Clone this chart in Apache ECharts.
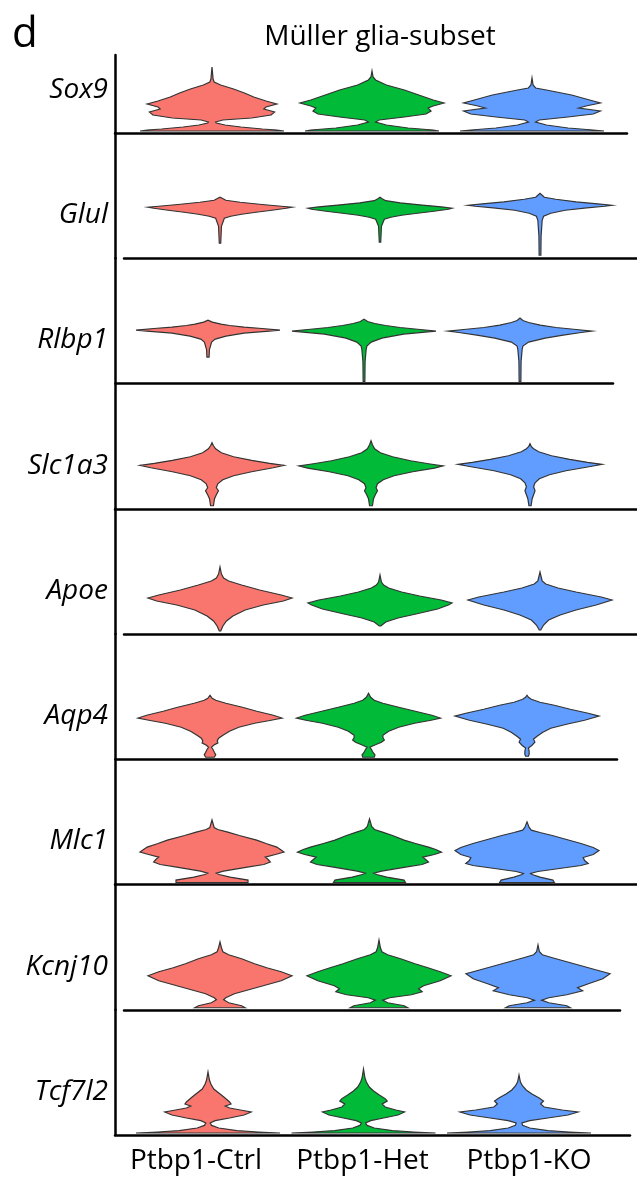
<!DOCTYPE html>
<html><head><meta charset="utf-8">
<script src="https://cdn.jsdelivr.net/npm/echarts@6/dist/echarts.min.js"></script>
<style>html,body{margin:0;padding:0;background:#fff}#c{width:637px;height:1177px}</style>
</head><body><div id="c"></div>
<script>
// ---------- DATA ----------
const groups = ['Ptbp1-Ctrl', 'Ptbp1-Het', 'Ptbp1-KO'];
const genes = ['Sox9', 'Glul', 'Rlbp1', 'Slc1a3', 'Apoe', 'Aqp4', 'Mlc1', 'Kcnj10', 'Tcf7l2'];
const title = 'Müller glia-subset';
const panelLetter = 'd';

// violin profiles per gene: for each group [expression level, relative density (1 = widest)]
const Sox9 = [
  [[0,1.0],[0.05,0.9],[0.1,0.7],[0.2,0.4],[0.3,0.18],[0.4,0.06],[0.45,0.05],[0.55,0.15],[0.65,0.55],[0.8,0.82],[0.95,0.87],[1.1,0.72],[1.2,0.75],[1.35,0.9],[1.5,0.75],[1.7,0.58],[1.9,0.45],[2.1,0.3],[2.3,0.12],[2.45,0.03],[2.6,0.015],[3.2,0]],
  [[0,0.93],[0.05,0.85],[0.15,0.5],[0.3,0.2],[0.45,0.05],[0.55,0.1],[0.7,0.45],[0.85,0.75],[1.0,0.82],[1.15,0.78],[1.25,0.85],[1.4,1.0],[1.55,0.85],[1.8,0.65],[2.05,0.45],[2.3,0.2],[2.55,0.05],[2.7,0.015],[3.0,0]],
  [[0,1.0],[0.05,0.85],[0.15,0.5],[0.3,0.2],[0.45,0.05],[0.55,0.1],[0.7,0.5],[0.85,0.85],[1.0,0.95],[1.15,0.65],[1.25,0.75],[1.4,0.95],[1.55,0.8],[1.8,0.55],[2.05,0.2],[2.15,0.05],[2.3,0.015],[2.65,0]]
];
const Glul = [
  [[0.65,0.01],[1.5,0.02],[1.9,0.06],[2.0,0.15],[2.1,0.3],[2.2,0.5],[2.3,0.72],[2.4,0.92],[2.45,1.0],[2.5,0.85],[2.6,0.55],[2.7,0.28],[2.8,0.08],[2.9,0.03],[2.95,0]],
  [[0.7,0.01],[1.5,0.02],[1.85,0.06],[1.95,0.15],[2.05,0.3],[2.15,0.52],[2.25,0.75],[2.35,0.95],[2.4,1.0],[2.47,0.85],[2.57,0.55],[2.67,0.28],[2.78,0.08],[2.88,0.03],[2.95,0]],
  [[0.05,0.012],[1.0,0.015],[1.8,0.03],[2.0,0.05],[2.15,0.15],[2.3,0.35],[2.42,0.65],[2.5,0.9],[2.55,1.0],[2.62,0.8],[2.72,0.5],[2.85,0.22],[2.95,0.06],[3.05,0.03],[3.15,0]]
];
const Rlbp1 = [
  [[1.22,0.015],[1.6,0.02],[1.97,0.05],[2.12,0.1],[2.27,0.25],[2.42,0.5],[2.52,0.85],[2.57,1.0],[2.65,0.75],[2.72,0.5],[2.8,0.3],[2.87,0.18],[2.97,0.06],[3.07,0]],
  [[0,0.012],[1.0,0.015],[1.6,0.03],[1.77,0.04],[1.97,0.1],[2.17,0.25],[2.37,0.55],[2.47,0.85],[2.52,1.0],[2.6,0.78],[2.7,0.5],[2.8,0.3],[2.9,0.15],[3.0,0.05],[3.12,0]],
  [[0,0.012],[1.0,0.015],[1.6,0.03],[1.77,0.04],[1.97,0.12],[2.17,0.35],[2.32,0.6],[2.45,0.85],[2.52,1.0],[2.6,0.78],[2.7,0.5],[2.82,0.28],[2.95,0.12],[3.05,0.04],[3.17,0]]
];
const Slc1a3 = [
  [[0.05,0.02],[0.4,0.035],[0.6,0.06],[0.8,0.09],[0.95,0.06],[1.15,0.08],[1.35,0.15],[1.55,0.3],[1.75,0.55],[1.95,0.85],[2.07,1.0],[2.17,0.8],[2.32,0.55],[2.5,0.3],[2.7,0.13],[2.9,0.05],[3.05,0.02],[3.2,0]],
  [[0.05,0.02],[0.4,0.035],[0.6,0.06],[0.8,0.09],[0.95,0.07],[1.15,0.09],[1.35,0.17],[1.55,0.32],[1.75,0.58],[1.93,0.88],[2.04,1.0],[2.15,0.8],[2.3,0.55],[2.5,0.3],[2.7,0.13],[2.9,0.05],[3.1,0.02],[3.3,0]],
  [[0.05,0.015],[0.4,0.03],[0.6,0.05],[0.8,0.07],[1.0,0.05],[1.2,0.07],[1.4,0.13],[1.6,0.27],[1.8,0.5],[2.0,0.82],[2.12,1.0],[2.22,0.8],[2.37,0.55],[2.55,0.3],[2.75,0.12],[2.9,0.05],[3.0,0.02],[3.15,0]]
];
const Apoe = [
  [[0.05,0.01],[0.3,0.04],[0.55,0.09],[0.8,0.18],[1.1,0.35],[1.35,0.6],[1.55,0.88],[1.7,1.0],[1.85,0.85],[2.1,0.55],[2.35,0.3],[2.55,0.12],[2.7,0.05],[2.9,0.02],[3.25,0]],
  [[0.3,0.01],[0.5,0.08],[0.7,0.25],[0.9,0.5],[1.15,0.8],[1.35,0.95],[1.45,1.0],[1.6,0.85],[1.8,0.55],[2.0,0.3],[2.2,0.12],[2.35,0.05],[2.5,0.02],[2.85,0]],
  [[0.1,0.01],[0.35,0.05],[0.6,0.12],[0.85,0.28],[1.1,0.5],[1.35,0.78],[1.6,1.0],[1.75,0.85],[2.0,0.5],[2.2,0.25],[2.4,0.08],[2.55,0.03],[3.0,0]]
];
const Aqp4 = [
  [[0,0.06],[0.12,0.08],[0.25,0.06],[0.4,0.04],[0.5,0.02],[0.6,0.05],[0.72,0.11],[0.82,0.1],[0.95,0.12],[1.1,0.18],[1.3,0.27],[1.5,0.4],[1.7,0.62],[1.85,0.85],[1.96,1.0],[2.1,0.88],[2.3,0.65],[2.5,0.45],[2.7,0.22],[2.85,0.08],[2.95,0.03],[3.1,0]],
  [[0,0.08],[0.12,0.09],[0.25,0.06],[0.4,0.04],[0.5,0.02],[0.6,0.08],[0.75,0.18],[0.86,0.22],[0.98,0.2],[1.1,0.2],[1.3,0.28],[1.5,0.42],[1.7,0.64],[1.85,0.87],[1.96,1.0],[2.1,0.88],[2.3,0.65],[2.5,0.42],[2.7,0.2],[2.85,0.08],[3.0,0.03],[3.2,0]],
  [[0.05,0.02],[0.15,0.03],[0.3,0.03],[0.46,0.02],[0.6,0.07],[0.76,0.11],[0.9,0.09],[1.05,0.14],[1.25,0.22],[1.45,0.33],[1.65,0.55],[1.85,0.8],[2.06,1.0],[2.2,0.85],[2.4,0.6],[2.6,0.38],[2.75,0.18],[2.9,0.06],[3.0,0.02],[3.1,0]]
];
const Mlc1 = [
  [[0,0.5],[0.12,0.5],[0.27,0.25],[0.4,0.1],[0.47,0.06],[0.57,0.16],[0.77,0.49],[0.9,0.72],[1.02,0.81],[1.15,0.78],[1.27,0.74],[1.4,0.88],[1.52,1.0],[1.65,0.95],[1.77,0.9],[1.95,0.75],[2.12,0.62],[2.35,0.38],[2.52,0.22],[2.65,0.08],[2.75,0.03],[3.13,0]],
  [[0,0.5],[0.12,0.48],[0.27,0.24],[0.4,0.1],[0.47,0.06],[0.57,0.17],[0.77,0.5],[0.9,0.73],[1.02,0.82],[1.15,0.78],[1.27,0.74],[1.4,0.9],[1.52,1.0],[1.65,0.92],[1.77,0.82],[1.95,0.64],[2.12,0.48],[2.35,0.32],[2.52,0.18],[2.65,0.07],[2.8,0.03],[3.18,0]],
  [[0,0.38],[0.12,0.36],[0.27,0.18],[0.4,0.07],[0.45,0.05],[0.55,0.15],[0.7,0.45],[0.85,0.75],[0.95,0.85],[1.1,0.8],[1.25,0.78],[1.4,0.92],[1.6,1.0],[1.75,0.92],[1.95,0.75],[2.15,0.55],[2.35,0.35],[2.5,0.18],[2.62,0.06],[2.75,0.03],[3.03,0]]
];
const Kcnj10 = [
  [[0,0.35],[0.1,0.3],[0.25,0.12],[0.4,0.05],[0.5,0.08],[0.7,0.2],[0.9,0.4],[1.1,0.6],[1.35,0.85],[1.6,1.0],[1.8,0.85],[2.0,0.65],[2.2,0.48],[2.45,0.3],[2.65,0.12],[2.8,0.04],[3.0,0.02],[3.29,0]],
  [[0,0.4],[0.1,0.35],[0.25,0.12],[0.38,0.05],[0.5,0.15],[0.65,0.45],[0.8,0.6],[0.95,0.55],[1.1,0.62],[1.35,0.85],[1.6,1.0],[1.8,0.85],[2.0,0.68],[2.2,0.5],[2.45,0.3],[2.65,0.12],[2.8,0.04],[3.0,0.02],[3.39,0]],
  [[0,0.45],[0.1,0.4],[0.25,0.15],[0.38,0.05],[0.5,0.15],[0.65,0.4],[0.85,0.62],[1.0,0.55],[1.2,0.7],[1.45,0.9],[1.7,1.0],[1.9,0.8],[2.1,0.6],[2.3,0.4],[2.5,0.2],[2.65,0.06],[2.8,0.02],[3.14,0]]
];
const Tcf7l2 = [
  [[0,1.0],[0.05,0.7],[0.12,0.4],[0.25,0.15],[0.38,0.05],[0.5,0.03],[0.62,0.1],[0.75,0.3],[0.9,0.5],[1.05,0.6],[1.15,0.45],[1.25,0.3],[1.35,0.24],[1.45,0.32],[1.55,0.3],[1.8,0.22],[2.0,0.15],[2.2,0.08],[2.45,0.04],[2.65,0.02],[3.05,0]],
  [[0,1.0],[0.05,0.7],[0.12,0.4],[0.25,0.15],[0.38,0.05],[0.5,0.03],[0.62,0.1],[0.75,0.28],[0.9,0.48],[1.05,0.57],[1.15,0.45],[1.3,0.3],[1.45,0.26],[1.6,0.33],[1.72,0.3],[1.9,0.22],[2.1,0.14],[2.3,0.08],[2.55,0.04],[2.75,0.02],[3.2,0]],
  [[0,1.0],[0.05,0.7],[0.12,0.4],[0.25,0.15],[0.38,0.05],[0.5,0.04],[0.62,0.15],[0.75,0.4],[0.9,0.68],[1.05,0.82],[1.15,0.6],[1.3,0.35],[1.45,0.3],[1.6,0.34],[1.75,0.28],[1.95,0.18],[2.15,0.1],[2.35,0.05],[2.55,0.02],[2.9,0]]
];
const profiles = [Sox9, Glul, Rlbp1, Slc1a3, Apoe, Aqp4, Mlc1, Kcnj10, Tcf7l2];

// ---------- LAYOUT / STYLE ----------
const colors = ['#F8766D', '#00BA38', '#619CFF'];
const AXIS_X = 115;          // vertical axis position
const TOP = 55;              // top of vertical axis
const B0 = 133, STEP = 125.25; // first baseline, row pitch
const PX_PER_UNIT = 20;      // expression units -> px
const HALF_PX = 72;          // widest half-width of every violin
// per-row: horizontal line extent [L,R], first violin centre c0, violin spacing sp
const rowLayout = [
  {L:115, R:627, c0:212, sp:160},
  {L:124, R:637, c0:220, sp:160},
  {L:117, R:613, c0:208, sp:156},
  {L:115, R:637, c0:212, sp:159},
  {L:124, R:637, c0:220, sp:160},
  {L:117, R:617, c0:210, sp:158.5},
  {L:115, R:637, c0:212, sp:157.5},
  {L:124, R:620, c0:220, sp:159},
  {L:115, R:630, c0:208, sp:155.5}
];
const FONT = '"Open Sans", "Noto Sans", sans-serif';
const LINE_W = 2.5;

const grids = [], xAxes = [], yAxes = [], series = [];
genes.forEach((g, i) => {
  const lay = rowLayout[i];
  const base = B0 + i * STEP;
  const top = i === 0 ? TOP : B0 + (i - 1) * STEP;
  const h = base - top;
  grids.push({left: lay.L, top: top, width: lay.R - lay.L, height: h});
  const xmin = -(lay.c0 - lay.L) / lay.sp;
  xAxes.push({
    type: 'value', gridIndex: i, min: xmin, max: xmin + (lay.R - lay.L) / lay.sp,
    position: 'bottom',
    axisLine: {show: true, onZero: false, lineStyle: {color: '#000', width: LINE_W}},
    axisTick: {show: false}, axisLabel: {show: false}, splitLine: {show: false}
  });
  yAxes.push({
    type: 'value', gridIndex: i, min: -0.1, max: -0.1 + h / PX_PER_UNIT,
    offset: lay.L - AXIS_X,
    axisLine: {show: true, onZero: false, lineStyle: {color: '#000', width: LINE_W}},
    axisTick: {show: false}, axisLabel: {show: false}, splitLine: {show: false}
  });
  const geneProf = profiles[i];
  series.push({
    type: 'custom', xAxisIndex: i, yAxisIndex: i, silent: true,
    data: groups.map((_, k) => [k, 0]),
    renderItem: function (params, api) {
      const k = api.value(0);
      const prof = geneProf[k];
      const unitPx = api.size([1, 0])[0];
      const half = HALF_PX / unitPx;
      const right = prof.map(p => api.coord([k + p[1] * half, p[0]]));
      const left = prof.slice().reverse().map(p => api.coord([k - p[1] * half, p[0]]));
      return {
        type: 'polygon',
        shape: {points: right.concat(left)},
        style: {fill: colors[k], stroke: '#333', lineWidth: 1.2}
      };
    }
  });
});
// group labels under the last row
const LBL_SP = 166.5, LBL_C0 = 196;
const lblMin = -(LBL_C0 - rowLayout[8].L) / LBL_SP;
xAxes.push({
  type: 'value', gridIndex: 8, min: lblMin,
  max: lblMin + (rowLayout[8].R - rowLayout[8].L) / LBL_SP,
  position: 'bottom',
  axisLine: {show: false}, axisTick: {show: false}, splitLine: {show: false},
  axisLabel: {
    show: true, customValues: [0, 1, 2], margin: 12,
    formatter: v => groups[Math.round(v)] || '',
    color: '#000', fontSize: 28, fontFamily: FONT
  }
});

const graphic = [
  {type: 'text', x: 12, y: 35, style: {text: panelLetter, font: '42px ' + FONT, fill: '#000', align: 'left', verticalAlign: 'middle'}},
  {type: 'text', x: 380, y: 37, style: {text: title, font: '28px ' + FONT, fill: '#000', align: 'center', verticalAlign: 'middle'}}
].concat(genes.map((g, i) => ({
  type: 'text', x: 108, y: B0 + i * STEP - 43,
  style: {text: g, font: 'italic 28px ' + FONT, fill: '#000', align: 'right', verticalAlign: 'middle'}
})));

const chart = echarts.init(document.getElementById('c'), null, {renderer: 'canvas'});
chart.setOption({
  animation: false,
  backgroundColor: '#fff',
  grid: grids, xAxis: xAxes, yAxis: yAxes, series: series, graphic: graphic
});
</script></body></html>
